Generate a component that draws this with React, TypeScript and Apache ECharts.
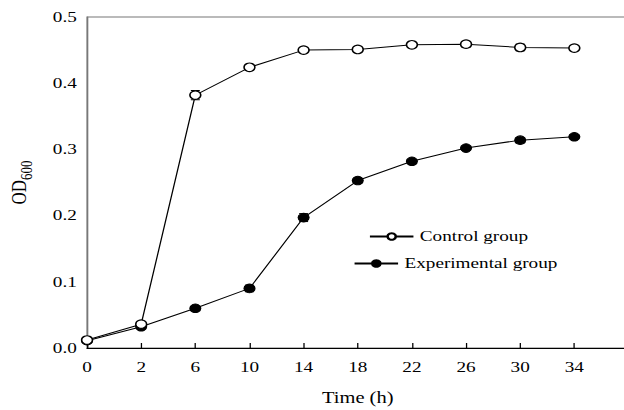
import React, { useEffect, useRef } from "react";
import * as echarts from "echarts";

const timeLabels = ["0", "2", "6", "10", "14", "18", "22", "26", "30", "34", ""];
const controlValues = [0.012, 0.036, 0.382, 0.424, 0.45, 0.451, 0.458, 0.459, 0.454, 0.453];
const controlErrors = [0.002, 0.003, 0.007, 0.004, 0.003, 0.003, 0.003, 0.004, 0.005, 0.003];
const experimentalValues = [0.011, 0.032, 0.06, 0.09, 0.197, 0.253, 0.282, 0.302, 0.314, 0.319];
const experimentalErrors = [0.002, 0.003, 0.003, 0.005, 0.006, 0.004, 0.003, 0.003, 0.004, 0.003];
const yTicks = ["0.0", "0.1", "0.2", "0.3", "0.4", "0.5"];

const FONT = "'Liberation Serif', 'Times New Roman', 'DejaVu Serif', serif";
const SX = 1.28; // horizontal stretch of the original figure
const W = 624 / SX;

function errorSeries(values: number[], errors: number[], name: string) {
  return {
    type: "custom",
    name: name + " err",
    z: 1,
    silent: true,
    data: values.map((v, i) => [i, v - errors[i], v + errors[i]]),
    renderItem: (params: any, api: any) => {
      const i = api.value(0);
      const lo = api.coord([i, api.value(1)]);
      const hi = api.coord([i, api.value(2)]);
      const w = 3.5;
      const style = { stroke: "#000", lineWidth: 1 };
      return {
        type: "group",
        children: [
          { type: "line", shape: { x1: lo[0], y1: lo[1], x2: hi[0], y2: hi[1] }, style },
          { type: "line", shape: { x1: lo[0] - w, y1: lo[1], x2: lo[0] + w, y2: lo[1] }, style },
          { type: "line", shape: { x1: hi[0] - w, y1: hi[1], x2: hi[0] + w, y2: hi[1] }, style },
        ],
      };
    },
  };
}

export default function App() {
  const ref = useRef<HTMLDivElement>(null);
  useEffect(() => {
    if (!ref.current) return;
    const chart = echarts.init(ref.current, undefined, { renderer: "svg" });
    chart.setOption({
      animation: false,
      backgroundColor: "#fff",
      textStyle: { fontFamily: FONT },
      grid: {
        left: 68,
        top: 17,
        bottom: 62,
        right: -3,
        containLabel: false,
        outerBoundsMode: "none",
        show: true,
        borderColor: "#777",
        borderWidth: 1,
        backgroundColor: "transparent",
      },
      legend: [
        {
          data: ["Control group"],
          left: 283,
          top: 224,
          itemWidth: 34,
          itemHeight: 8,
          textStyle: { fontFamily: FONT, fontSize: 15, color: "#000", padding: [0, 0, 0, 0] },
        },
        {
          data: ["Experimental group"],
          left: 271,
          top: 251,
          itemWidth: 34,
          itemHeight: 8,
          textStyle: { fontFamily: FONT, fontSize: 15, color: "#000", padding: [0, 0, 0, 0] },
        },
      ],
      xAxis: {
        type: "category",
        data: timeLabels,
        boundaryGap: false,
        name: "Time (h)",
        nameLocation: "middle",
        nameGap: 42,
        nameTextStyle: { fontFamily: FONT, fontSize: 16, color: "#000" },
        axisLine: { lineStyle: { color: "#000", width: 1 } },
        axisTick: { show: true, inside: true, length: 5, lineStyle: { color: "#000" } },
        axisLabel: { fontFamily: FONT, fontSize: 15, color: "#000", margin: 12 },
        splitLine: { show: false },
      },
      yAxis: {
        type: "value",
        min: 0,
        max: 0.5,
        interval: 0.1,
        name: "{a|OD}{b|600}",
        nameLocation: "middle",
        nameGap: 45,
        nameRotate: 90,
        nameTextStyle: {
          rich: {
            a: { fontFamily: FONT, fontSize: 17, color: "#000", verticalAlign: "bottom", lineHeight: 20 },
            b: { fontFamily: FONT, fontSize: 13, color: "#000", verticalAlign: "bottom", lineHeight: 14, padding: [0, 0, -4, 0] },
          },
        },
        axisLine: { show: true, lineStyle: { color: "#777" } },
        axisTick: { show: false },
        axisLabel: {
          fontFamily: FONT,
          fontSize: 15,
          color: "#000",
          margin: 8,
          formatter: (v: number) => yTicks[Math.round(v * 10)] ?? v.toFixed(1),
        },
        splitLine: { show: false },
      },
      series: [
        errorSeries(experimentalValues, experimentalErrors, "Experimental group"),
        {
          name: "Experimental group",
          type: "line",
          data: experimentalValues,
          symbol: "circle",
          symbolSize: 8.5,
          z: 2,
          lineStyle: { color: "#000", width: 1 },
          itemStyle: { color: "#000", borderColor: "#000", borderWidth: 1 },
        },
        errorSeries(controlValues, controlErrors, "Control group"),
        {
          name: "Control group",
          type: "line",
          data: controlValues,
          symbol: "circle",
          symbolSize: 8.5,
          z: 3,
          lineStyle: { color: "#000", width: 1 },
          itemStyle: { color: "#fff", borderColor: "#000", borderWidth: 1.2 },
        },
      ],
    });
    return () => chart.dispose();
  }, []);
  return (
    <div
      style={{ position: "absolute", left: 0, top: 0, width: 624, height: 410, overflow: "hidden", background: "#fff" }}
    >
      <div
        ref={ref}
        style={{
          width: W,
          height: 410,
          transform: `scaleX(${SX})`,
          transformOrigin: "0 0",
        }}
      />
    </div>
  );
}
